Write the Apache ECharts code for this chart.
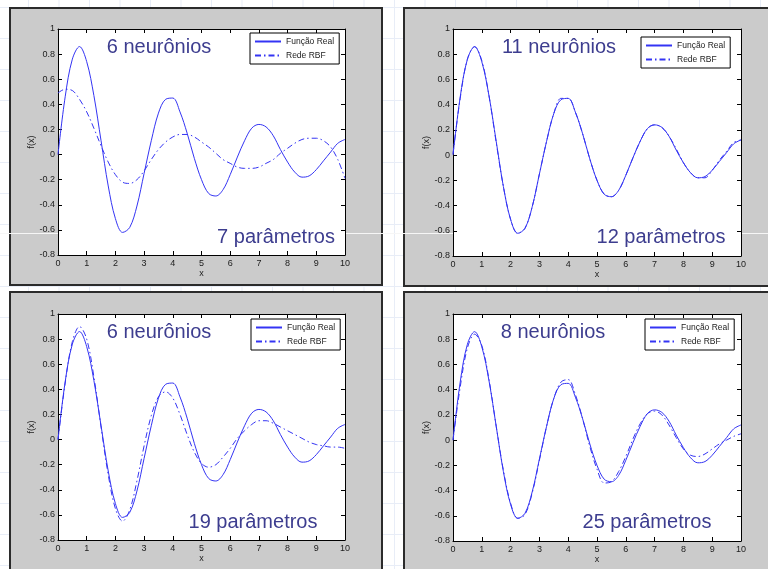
<!DOCTYPE html>
<html>
<head>
<meta charset="utf-8">
<script src="https://cdn.jsdelivr.net/npm/echarts@6/dist/echarts.min.js"></script>
<style>
  html, body { margin: 0; padding: 0; }
  body {
    width: 768px; height: 569px; overflow: hidden; position: relative; background-color: #fff;
    background-image: linear-gradient(to right, #e8edf7 1px, transparent 1px),
                      linear-gradient(to bottom, #e8edf7 1px, transparent 1px);
    background-size: 30.5px 31px; background-position: 28px 7px;
  }
  .frame { position: absolute; background: #cbcbcb; border: 2px solid #2b2b2b; box-sizing: border-box; }
  .scratch { position: absolute; left: 0; width: 768px; top: 233px; height: 1px; background: #f6f6f6; }
  #chart { position: absolute; left: 0; top: 0; width: 768px; height: 569px; }
</style>
</head>
<body>
<div class="frame" style="left:9px;top:7px;width:374px;height:279px"></div>
<div class="frame" style="left:403px;top:7px;width:370px;height:280px"></div>
<div class="frame" style="left:9px;top:291px;width:374px;height:290px"></div>
<div class="frame" style="left:403px;top:291px;width:370px;height:290px"></div>
<div class="scratch"></div>
<div id="chart"></div>
<script>
// x amostrado de 0 a 10
const X = [0, 0.25, 0.5, 0.75, 1, 1.25, 1.5, 1.75, 2, 2.25, 2.5, 2.75, 3, 3.25, 3.5, 3.75, 4, 4.25, 4.5, 4.75,
  5, 5.25, 5.5, 5.75, 6, 6.25, 6.5, 6.75, 7, 7.25, 7.5, 7.75, 8, 8.25, 8.5, 8.75, 9, 9.25, 9.5, 9.75, 10];

// função real
const REAL = [0, 0.46, 0.76, 0.86, 0.74, 0.47, 0.11, -0.25, -0.51, -0.62, -0.58, -0.41, -0.15, 0.11, 0.33, 0.44, 0.45, 0.34, 0.17, -0.03,
  -0.20, -0.31, -0.33, -0.28, -0.16, -0.02, 0.11, 0.21, 0.24, 0.22, 0.15, 0.04, -0.06, -0.14, -0.18, -0.17, -0.12, -0.05, 0.02, 0.09, 0.12];

// saídas da rede RBF, uma por painel
const RBF_6N_7P = [0.49, 0.52, 0.51, 0.44, 0.34, 0.21, 0.07, -0.06, -0.16, -0.22, -0.23, -0.20, -0.13, -0.04, 0.04, 0.10, 0.14, 0.16, 0.16, 0.14,
  0.10, 0.06, 0.01, -0.04, -0.07, -0.10, -0.11, -0.11, -0.10, -0.07, -0.04, 0.01, 0.05, 0.09, 0.12, 0.13, 0.13, 0.11, 0.06, -0.04, -0.19];
const RBF_11N_12P = [0.01, 0.45, 0.76, 0.86, 0.75, 0.47, 0.10, -0.25, -0.51, -0.62, -0.58, -0.41, -0.15, 0.11, 0.33, 0.45, 0.45, 0.34, 0.17, -0.03,
  -0.20, -0.31, -0.33, -0.28, -0.16, -0.02, 0.11, 0.21, 0.24, 0.22, 0.15, 0.05, -0.06, -0.14, -0.18, -0.18, -0.12, -0.04, 0.03, 0.10, 0.12];
const RBF_6N_19P = [0.00, 0.45, 0.78, 0.90, 0.80, 0.50, 0.10, -0.28, -0.55, -0.65, -0.56, -0.33, -0.05, 0.19, 0.34, 0.38, 0.33, 0.20, 0.04, -0.10,
  -0.19, -0.22, -0.20, -0.14, -0.07, 0.01, 0.07, 0.12, 0.15, 0.15, 0.13, 0.10, 0.07, 0.04, 0.01, -0.02, -0.04, -0.05, -0.06, -0.06, -0.07];
const RBF_8N_25P = [0.00, 0.42, 0.73, 0.84, 0.75, 0.48, 0.11, -0.24, -0.50, -0.62, -0.59, -0.42, -0.16, 0.11, 0.33, 0.46, 0.48, 0.36, 0.17, -0.05,
  -0.23, -0.34, -0.33, -0.25, -0.13, 0.01, 0.13, 0.21, 0.23, 0.20, 0.12, 0.02, -0.07, -0.12, -0.13, -0.11, -0.07, -0.03, 0.00, 0.03, 0.05];

const RBF_SETS = [RBF_6N_7P, RBF_11N_12P, RBF_6N_19P, RBF_8N_25P];
const NEURON_LABELS = ["6 neurônios", "11 neurônios", "6 neurônios", "8 neurônios"];
const PARAM_LABELS = ["7 parâmetros", "12 parâmetros", "19 parâmetros", "25 parâmetros"];
const LEGEND_NAMES = ["Função Real", "Rede RBF"];

// ---------- layout ----------
const GRIDS = [
  { left: 58, top: 29, width: 287, height: 226 },
  { left: 453, top: 29, width: 288, height: 227 },
  { left: 58, top: 314, width: 287, height: 226 },
  { left: 453, top: 314, width: 288, height: 227 },
];
const LEGEND_POS = [[250, 33], [641, 37], [251, 319], [645, 319]];
const NEURON_POS = [[159, 47], [559, 47], [159, 332], [553, 332]];
const PARAM_POS = [[276, 237], [661, 237], [253, 522], [647, 522]];

const BLUE = "#3434f4", INK = "#1c1c1c", TITLE = "#3d3d8f";
const tickFont = { fontFamily: "Liberation Sans", fontSize: 9, color: INK };
const pts = (ys) => X.map((x, i) => [x, ys[i]]);

const xAxes = [], yAxes = [], series = [], legends = [], texts = [];
GRIDS.forEach((g, i) => {
  const lineSt = { onZero: false, lineStyle: { color: "#000", width: 1 } };
  const tick = { inside: true, length: 4, lineStyle: { color: "#000" } };
  xAxes.push({
    type: "value", gridIndex: i, min: 0, max: 10, interval: 1, position: "bottom",
    axisLine: lineSt, axisTick: tick, splitLine: { show: false },
    axisLabel: { ...tickFont, margin: 4 },
    name: "x", nameLocation: "middle", nameGap: 13, nameTextStyle: { ...tickFont },
  });
  xAxes.push({
    type: "value", gridIndex: i, min: 0, max: 10, interval: 1, position: "top",
    axisLine: lineSt, axisTick: tick, splitLine: { show: false }, axisLabel: { show: false },
  });
  yAxes.push({
    type: "value", gridIndex: i, min: -0.8, max: 1, interval: 0.2, position: "left",
    axisLine: lineSt, axisTick: tick, splitLine: { show: false },
    axisLabel: { ...tickFont, margin: 3 },
    name: "f(x)", nameLocation: "middle", nameGap: 21, nameTextStyle: { ...tickFont },
  });
  yAxes.push({
    type: "value", gridIndex: i, min: -0.8, max: 1, interval: 0.2, position: "right",
    axisLine: lineSt, axisTick: tick, splitLine: { show: false }, axisLabel: { show: false },
  });
  series.push({
    name: LEGEND_NAMES[0], type: "line", xAxisIndex: 2 * i, yAxisIndex: 2 * i,
    data: pts(REAL), smooth: 0.35, symbol: "none", silent: true,
    lineStyle: { color: BLUE, width: 1 }, itemStyle: { color: BLUE }, z: 3,
  });
  series.push({
    name: LEGEND_NAMES[1], type: "line", xAxisIndex: 2 * i, yAxisIndex: 2 * i,
    data: pts(RBF_SETS[i]), smooth: 0.35, symbol: "none", silent: true,
    lineStyle: { color: BLUE, width: 1, type: [6, 3, 1.5, 3] }, itemStyle: { color: BLUE }, z: 3,
  });
  legends.push({
    data: LEGEND_NAMES, orient: "vertical", left: LEGEND_POS[i][0], top: LEGEND_POS[i][1],
    itemWidth: 26, itemHeight: 8, itemGap: 5, padding: [4, 5, 4, 4],
    backgroundColor: "#fff", borderColor: "#000", borderWidth: 1, borderRadius: 0,
    selectedMode: false, itemStyle: { opacity: 0 },
    textStyle: { fontFamily: "Liberation Sans", fontSize: 8.5, color: INK },
  });
  texts.push({
    type: "text", z: 100, x: NEURON_POS[i][0], y: NEURON_POS[i][1],
    style: { text: NEURON_LABELS[i], fill: TITLE, font: "20px 'Liberation Sans'", textAlign: "center", textVerticalAlign: "middle" },
  });
  texts.push({
    type: "text", z: 100, x: PARAM_POS[i][0], y: PARAM_POS[i][1],
    style: { text: PARAM_LABELS[i], fill: TITLE, font: "20px 'Liberation Sans'", textAlign: "center", textVerticalAlign: "middle" },
  });
});

const chart = echarts.init(document.getElementById("chart"), null, { renderer: "canvas" });
chart.setOption({
  animation: false,
  backgroundColor: "transparent",
  grid: GRIDS.map(g => ({ ...g, show: true, backgroundColor: "#fff", borderWidth: 0, containLabel: false })),
  xAxis: xAxes,
  yAxis: yAxes,
  legend: legends,
  series,
  graphic: texts,
});
</script>
</body>
</html>
